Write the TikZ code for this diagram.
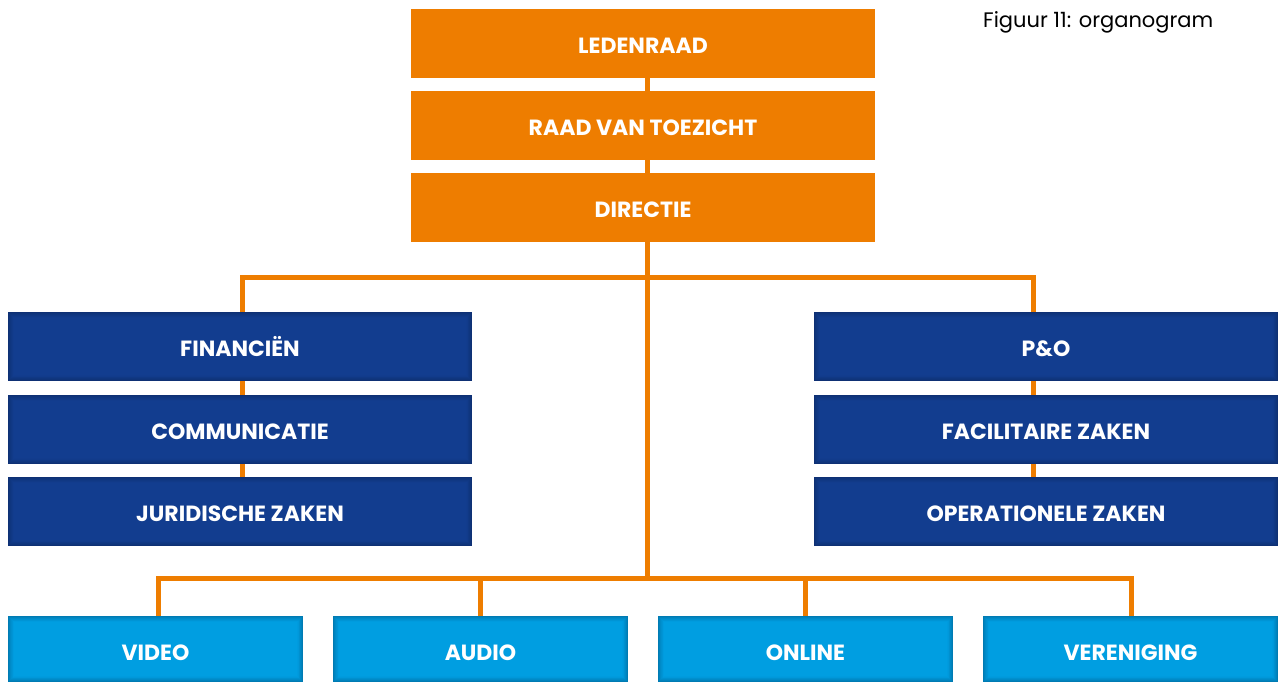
\documentclass[tikz,border=0pt]{standalone}
\usepackage{fontspec}
\setmainfont{Poppins}
\usetikzlibrary{backgrounds}
\definecolor{org}{HTML}{EE7D00}
\definecolor{dblue}{HTML}{123E90}
\definecolor{dblueedge}{HTML}{0C2C6A}
\definecolor{lblue}{HTML}{009FE3}
\definecolor{lblueedge}{HTML}{006FA3}
\tikzset{
  x=1pt, y=-1pt,
  box/.style={minimum width=464pt, minimum height=69pt, inner sep=0pt, text=white,
    text height=19.4pt, text depth=0pt,
    font=\fontsize{22}{26}\selectfont\bfseries},
  orangebox/.style={box, fill=org},
  vignette/.style 2 args={path picture={
      \foreach \i/\p in {0/75,1/58,2/44,3/32,4/22,5/14,6/8,7/3}{
        \fill[#2!\p!#1]
          ([xshift=\i*0.9pt,yshift=-\i*0.9pt]path picture bounding box.north west)
          rectangle ([xshift=-\i*0.9pt,yshift=\i*0.9pt]path picture bounding box.south east);
      }}},
  bluebox/.style={box, fill=dblue, vignette={dblue}{dblueedge}},
  unitbox/.style={box, minimum width=295pt, minimum height=66pt, text height=23.4pt,
    fill=lblue, vignette={lblue}{lblueedge}},
  link/.style={draw=org, line width=5pt},
  caption/.style={font=\fontsize{21}{24}\selectfont, inner sep=0pt, anchor=base west}
}
\begin{document}
\begin{tikzpicture}
\useasboundingbox (0,0) rectangle (1279,682);
\node[orangebox] (led) at (643,43.5) {LEDENRAAD};
\node[orangebox] (rvt) at (643,125.5) {RAAD VAN TOEZICHT};
\node[orangebox] (dir) at (643,207.5) {DIRECTIE};
\node[bluebox] (fin) at (240,346.5) {FINANCIËN};
\node[bluebox] (com) at (240,429.5) {COMMUNICATIE};
\node[bluebox] (jur) at (240,511.5) {JURIDISCHE ZAKEN};
\node[bluebox] (po) at (1046,346.5) {P\&O};
\node[bluebox] (fac) at (1046,429.5) {FACILITAIRE ZAKEN};
\node[bluebox] (ops) at (1046,511.5) {OPERATIONELE ZAKEN};
\node[unitbox] (vid) at (155.5,649) {VIDEO};
\node[unitbox] (aud) at (480.5,649) {AUDIO};
\node[unitbox] (onl) at (805.5,649) {ONLINE};
\node[unitbox] (ver) at (1130.5,649) {VERENIGING};
\node[caption] (cap) at (983,28) {Figuur 11: organogram};
\coordinate (top) at (647,277.5);
\coordinate (bot) at (647,578.5);
\coordinate (lt) at (242.5,277.5);
\coordinate (rt) at (1033.5,277.5);
\coordinate (b1) at (158,578.5);
\coordinate (b4) at (1131,578.5);
\begin{scope}[on background layer]
\draw[link] ([xshift=4pt]led.south) -- (bot);
\draw[link, line cap=rect] (jur.north -| lt) -- (lt) -- (rt) -- (ops.north -| rt);
\draw[link] (fin.south -| lt) -- (jur.north -| lt);
\draw[link] (po.south -| rt) -- (ops.north -| rt);
\draw[link] (b1 |- vid.north) -- (b1) -- (b4) -- (b4 |- ver.north);
\draw[link] (aud.north) -- (aud.north |- bot);
\draw[link] (onl.north) -- (onl.north |- bot);
\end{scope}
\end{tikzpicture}
\end{document}
